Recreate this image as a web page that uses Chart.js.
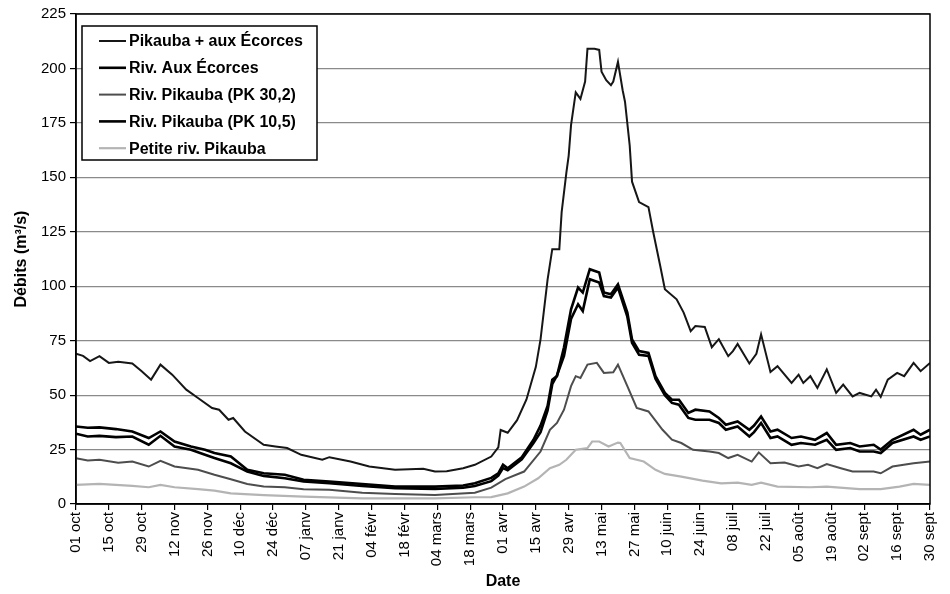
<!DOCTYPE html>
<html>
<head>
<meta charset="utf-8">
<script src="https://cdn.jsdelivr.net/npm/chart.js@4.4.1/dist/chart.umd.min.js"></script>
<style>
  html, body { margin: 0; padding: 0; background: #fff; }
  #wrap { width: 950px; height: 594px; position: relative; }
</style>
</head>
<body>
<div id="wrap"><canvas id="c" width="950" height="594"></canvas></div>
<script>
// ---- Tick labels (one every 14 days, day 0 = 01 oct) ----
const tickLabels = ['01 oct','15 oct','29 oct','12 nov','26 nov','10 déc','24 déc','07 janv','21 janv','04 févr','18 févr','04 mars','18 mars','01 avr','15 avr','29 avr','13 mai','27 mai','10 juin','24 juin','08 juil','22 juil','05 août','19 août','02 sept','16 sept','30 sept'];

const seriesLabels = ['Pikauba + aux Écorces','Riv. Aux Écorces','Riv. Pikauba (PK 30,2)','Riv. Pikauba (PK 10,5)','Petite riv. Pikauba'];

// ---- Pikauba + aux Écorces ----
const sumDays = [0,3,6,10,14,18,24,28,32,36,41,47,52,58,61,65,67,72,80,85,90,96,105,108,117,125,136,148,153,158,165,170,177,180,181,184,188,192,196,198,201,203,206,207,209,210,211,213,215,217,218,221,223,224,226,228,229,231,233,234,236,237,240,244,246,249,251,256,259,262,264,268,271,274,278,280,282,287,290,292,296,299,305,308,310,313,316,320,324,327,331,334,339,341,343,346,350,353,357,360,364];
const sumVals = [69,68,65.6,67.9,64.8,65.3,64.5,61,57.1,64,59.4,52.5,48.7,44.1,43.3,38.7,39.5,33.3,27.2,26.4,25.7,22.6,20.3,21.5,19.5,17.2,15.7,16.2,14.9,15,16.4,18,21.8,26,34,32.7,38.5,48,63,75.6,103,117,117,134,152,160,174,189,186,194,209,209,208.5,198.5,194.6,192.3,194,203,190,184.7,164.7,148,138.6,136.3,125,109.4,98.6,94,87.9,79.4,81.7,81.3,72,75.7,67.9,70.2,73.5,64.5,69,77.9,60.6,63.3,55.6,59.4,55.6,58.7,53.3,61.8,51,54.8,49.4,51,49.4,52.5,49.2,57.1,60.2,58.7,64.8,61,64.8];

// ---- Riv. Aux Écorces ----
const ecoDays = [0,5,10,17,24,31,36,42,49,55,59,66,73,80,89,97,108,122,136,153,165,170,177,180,182,184,190,195,198,201,203,205,208,211,214,216,219,223,225,228,231,235,237,240,244,247,251,254,257,261,264,270,274,277,282,287,289,292,296,299,305,309,315,320,324,330,334,340,343,348,357,360,364];
const ecoVals = [35.6,35,35.2,34.4,33.3,30.3,33.3,28.7,26.4,24.9,23.4,21.8,15.7,14.1,13.4,11.1,10.3,9.2,8,8,8.5,9.5,12,14.1,18,16.4,21.5,29.5,36,45,57.1,58.7,72,89.4,99.4,97.1,107.8,106.3,97.1,96.3,100.9,87.9,75.6,70.2,69.4,58.7,51,47.9,47.9,41.8,43.3,42.5,39.5,36.4,37.9,34.1,36,40.2,33.3,34.1,30.3,31,29.5,32.6,27.2,28,26.4,27.2,25,29.5,34.1,31.8,34.1];

// ---- Riv. Pikauba (PK 30,2) ----
const pk30Days = [0,5,10,18,24,31,36,42,52,59,66,73,80,89,97,108,122,136,153,170,177,183,191,198,202,205,208,211,213,215,218,222,225,229,231,235,239,244,250,254,258,263,270,274,278,282,288,291,296,302,308,312,316,320,326,331,340,343,348,357,364];
const pk30Vals = [21,20,20.3,19,19.5,17.2,19.8,17.2,15.7,13.4,11.4,9.2,8,7.7,6.8,6.5,5.2,4.6,4.1,5.2,7.5,11.4,14.9,24.1,34.1,37.2,43.3,54.1,58.7,57.9,64,64.8,60.2,60.5,64,54.1,44.1,42.5,34.1,29.5,28,24.9,24.1,23.4,21.1,22.6,19.5,23.7,18.7,19,17.2,18,16.4,18.3,16.4,14.9,14.9,14.1,17.2,18.7,19.5];

// ---- Riv. Pikauba (PK 10,5) ----
const pk10Days = ecoDays;
const pk10Vals = [32.3,31,31.3,30.7,31,27.2,31.3,26.4,24.9,22.6,21.1,18.7,14.9,12.9,11.8,10.3,9.5,8.3,7.2,6.9,7.5,8.3,10.5,13,16.5,15.5,20.5,28,33,43,55,59,68,85,91.7,88.6,103.2,101.7,95.5,94.8,99.4,86,74,68.5,68,57.5,50,46.4,45.6,39.5,38.7,38.7,37.2,34.1,35.6,31,33,37.2,30.3,31,27.2,28,27.2,29.5,24.9,25.7,24.1,24.1,23.4,28,31,29.5,31];

// ---- Petite riv. Pikauba ----
const petDays = [0,10,24,31,36,42,52,59,66,80,97,122,153,170,177,184,191,197,202,206,209,213,218,220,223,227,231,232,236,242,247,251,258,267,275,282,288,292,299,313,320,334,343,351,357,364];
const petVals = [8.8,9.2,8.3,7.7,8.8,7.7,6.8,6.1,4.9,4.1,3.4,2.6,2.6,3.1,3.2,4.9,8,11.8,16.4,18,20.3,24.9,25.7,28.7,28.7,26.4,28.2,28,21.1,19.5,15.7,13.8,12.6,10.7,9.5,9.8,8.8,9.8,8,7.7,8,6.8,6.8,8,9.2,8.8];

const yTicks = [0,25,50,75,100,125,150,175,200,225];

function pts(days, vals) { return days.map((d, i) => ({ x: d, y: vals[i] })); }

Chart.defaults.font.family = '"Liberation Sans", Arial, sans-serif';
Chart.defaults.color = '#000';

const frame = {
  id: 'frame',
  afterDraw(chart) {
    const { ctx, chartArea: a } = chart;
    ctx.save();
    ctx.strokeStyle = '#000';
    ctx.lineWidth = 1.5;
    ctx.strokeRect(a.left, a.top, a.right - a.left, a.bottom - a.top);
    ctx.restore();
  }
};

const legendBox = {
  id: 'legendBox',
  afterDraw(chart) {
    const { ctx, chartArea } = chart;
    const x0 = chartArea.left + 6, y0 = chartArea.top + 12;
    const w = 235, h = 134;
    ctx.save();
    ctx.fillStyle = '#fff';
    ctx.fillRect(x0, y0, w, h);
    ctx.strokeStyle = '#000';
    ctx.lineWidth = 1.5;
    ctx.strokeRect(x0, y0, w, h);
    ctx.font = 'bold 16px "Liberation Sans", Arial, sans-serif';
    ctx.textBaseline = 'middle';
    chart.data.datasets.forEach((ds, i) => {
      const y = y0 + 15 + i * 26.8;
      ctx.strokeStyle = ds.borderColor;
      ctx.lineWidth = ds.borderWidth;
      ctx.beginPath();
      ctx.moveTo(x0 + 17, y);
      ctx.lineTo(x0 + 44, y);
      ctx.stroke();
      ctx.fillStyle = '#000';
      ctx.fillText(ds.label, x0 + 47, y + 1);
    });
    ctx.restore();
  }
};

const bg = {
  id: 'bg',
  beforeDraw(chart) {
    const { ctx } = chart;
    ctx.save();
    ctx.fillStyle = '#fff';
    ctx.fillRect(0, 0, chart.width, chart.height);
    ctx.restore();
  }
};

new Chart(document.getElementById('c'), {
  type: 'line',
  data: {
    datasets: [
      { label: seriesLabels[0], data: pts(sumDays, sumVals), borderColor: '#161616', borderWidth: 2 },
      { label: seriesLabels[1], data: pts(ecoDays, ecoVals), borderColor: '#000000', borderWidth: 2.6 },
      { label: seriesLabels[2], data: pts(pk30Days, pk30Vals), borderColor: '#4d4d4d', borderWidth: 2 },
      { label: seriesLabels[3], data: pts(pk10Days, pk10Vals), borderColor: '#000000', borderWidth: 2.6 },
      { label: seriesLabels[4], data: pts(petDays, petVals), borderColor: '#b4b4b4', borderWidth: 2.2 }
    ].map(d => Object.assign(d, { pointRadius: 0, tension: 0, fill: false }))
  },
  options: {
    responsive: false,
    animation: false,
    devicePixelRatio: 1,
    layout: { padding: { left: 2, right: 9, top: 14, bottom: 0 } },
    plugins: { legend: { display: false }, tooltip: { enabled: false } },
    scales: {
      x: {
        type: 'linear',
        min: 0,
        max: 364,
        afterBuildTicks: (s) => { s.ticks = tickLabels.map((_, i) => ({ value: i * 14 })); },
        afterFit: (s) => { s.height = 90; },
        ticks: {
          autoSkip: false,
          maxRotation: 90,
          minRotation: 90,
          padding: 2,
          font: { size: 15 },
          color: '#000',
          callback: (v) => tickLabels[Math.round(v / 14)]
        },
        grid: { drawOnChartArea: false, drawTicks: true, tickLength: 6, color: '#000', lineWidth: 1.2 },
        border: { color: '#000', width: 1.5 },
        title: { display: true, text: 'Date', font: { size: 16, weight: 'bold' }, color: '#000', padding: { top: 0, bottom: 3 } }
      },
      y: {
        min: 0,
        max: 225,
        afterBuildTicks: (s) => { s.ticks = yTicks.map(v => ({ value: v })); },
        afterFit: (s) => { s.width = 74; },
        ticks: { font: { size: 15 }, color: '#000', padding: 4 },
        grid: { color: '#8a8a8a', lineWidth: 1.2, tickLength: 6, tickColor: '#000' },
        border: { color: '#000', width: 1.5 },
        title: { display: true, text: 'Débits (m³/s)', font: { size: 16, weight: 'bold' }, color: '#000', padding: { top: 10, bottom: 0 } }
      }
    }
  },
  plugins: [bg, frame, legendBox]
});
</script>
</body>
</html>
